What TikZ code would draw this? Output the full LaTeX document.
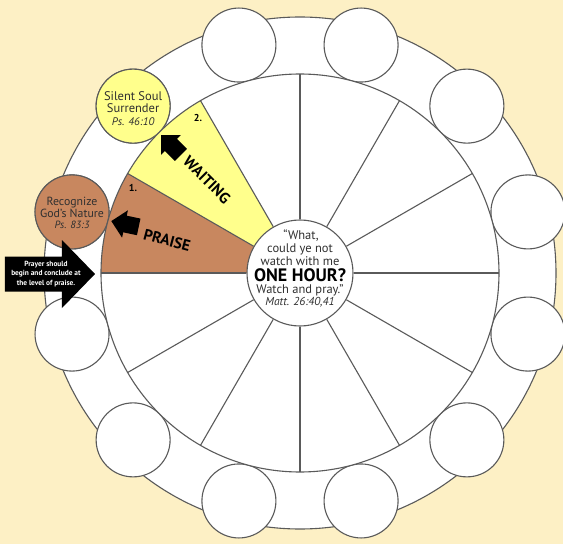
\documentclass[tikz,border=0pt]{standalone}
\usepackage{fontspec}
\setmainfont{PT Sans}
\definecolor{bgc}{HTML}{FDF0C5}
\definecolor{linegray}{HTML}{5A5A5A}
\definecolor{praisec}{HTML}{C8875F}
\definecolor{waitc}{HTML}{FFFF8C}
\definecolor{txtc}{HTML}{303030}
\tikzset{
  ln/.style={draw=linegray, line width=1.1pt},
  smallc/.style={circle, ln, fill=white, minimum size=74pt, inner sep=0pt},
  circtext/.style={align=center, text=txtc, inner sep=0pt, font=\fontsize{12.5}{12.5}\selectfont},
  sectorlabel/.style={font=\bfseries\fontsize{15.5}{15.5}\selectfont, text=black, inner sep=0pt},
  numlabel/.style={font=\bfseries\fontsize{10}{10}\selectfont, text=black, inner sep=0pt},
  ctext/.style={anchor=base, inner sep=0pt, text=txtc, font=\fontsize{12.5}{12.5}\selectfont},
}
\begin{document}
\begin{tikzpicture}[x=1pt,y=1pt]
  % background and bounding box
  \fill[bgc] (-300,-271) rectangle (263,273);
  \useasboundingbox (-300,-271) rectangle (263,273);
  % outer ring
  \draw[ln, fill=white] (0,0) circle (256);
  % twelve small circles on the ring
  \foreach \i in {1,...,12}{
    \pgfmathsetmacro{\ang}{15+30*(\i-1)}
    \node[smallc] (c\i) at (\ang:236) {};
  }
  \node[smallc, fill=waitc] (soul) at (135:236) {};
  \node[smallc, fill=praisec] (nature) at (165:236) {};
  \node[circtext] (soultxt) at ([yshift=-2]soul.center) {Silent Soul\\Surrender\\{\itshape\fontsize{11}{12}\selectfont Ps. 46:10}};
  \node[circtext, font=\fontsize{11.8}{11.5}\selectfont] (naturetxt) at ([yshift=-1]nature.center) {Recognize\\God’s Nature\\{\itshape\fontsize{10.5}{11}\selectfont Ps. 83:3}};
  % main circle with coloured sectors
  \fill[white] (0,0) circle (199);
  \fill[praisec] (0,0) -- (180:199) arc[start angle=180, end angle=150, radius=199] -- cycle;
  \fill[waitc] (0,0) -- (150:199) arc[start angle=150, end angle=120, radius=199] -- cycle;
  \draw[ln] (0,0) circle (199);
  % centre circle
  \node[circle, ln, fill=white, minimum size=106pt, inner sep=0pt] (hub) at (0,0) {};
  \foreach \a in {0,30,...,330}{
    \draw[ln] (hub.\a) -- (\a:199);
  }
  % centre text
  \node[ctext] (l1) at (1,34) {“What,};
  \node[ctext] (l2) at (0,20.5) {could ye not};
  \node[ctext] (l3) at (0,7.5) {watch with me};
  \node[ctext, text=black, font=\bfseries\fontsize{18}{18}\selectfont] (l4) at (0,-9) {ONE HOUR?};
  \node[ctext] (l5) at (0,-20.5) {Watch and pray.”};
  \node[ctext, font=\itshape\fontsize{11.5}{12}\selectfont] (l6) at (0,-32) {Matt. 26:40,41};
  % sector labels
  \node[sectorlabel, rotate=-15] (praise) at (-133,33) {PRAISE};
  \node[sectorlabel, rotate=-45] (waiting) at (-93,93) {WAITING};
  \node[numlabel] (n1) at (-167,85) {1.};
  \node[numlabel] (n2) at (-102,155) {2.};
  % block arrows in the sectors
  \foreach \px/\py/\r in {-175/49/168, -129/128/135}{
    \begin{scope}[shift={(\px,\py)}, rotate=\r]
      \fill[black] (14,0) -- (0,14) -- (0,8.5) -- (-14,8.5) -- (-14,-8.5) -- (0,-8.5) -- (0,-14) -- cycle;
    \end{scope}
  }
  % big arrow at the left
  \fill[black] (-295,16.5) -- (-238,16.5) -- (-238,33) -- (-205,-1) -- (-238,-35) -- (-238,-18.5) -- (-295,-18.5) -- cycle;
  \node[align=center, text=white, inner sep=0pt, font=\bfseries\fontsize{7.4}{9.5}\selectfont] (note) at (-254,-1) {Prayer should\\begin and conclude at\\the level of praise.};
\end{tikzpicture}
\end{document}
